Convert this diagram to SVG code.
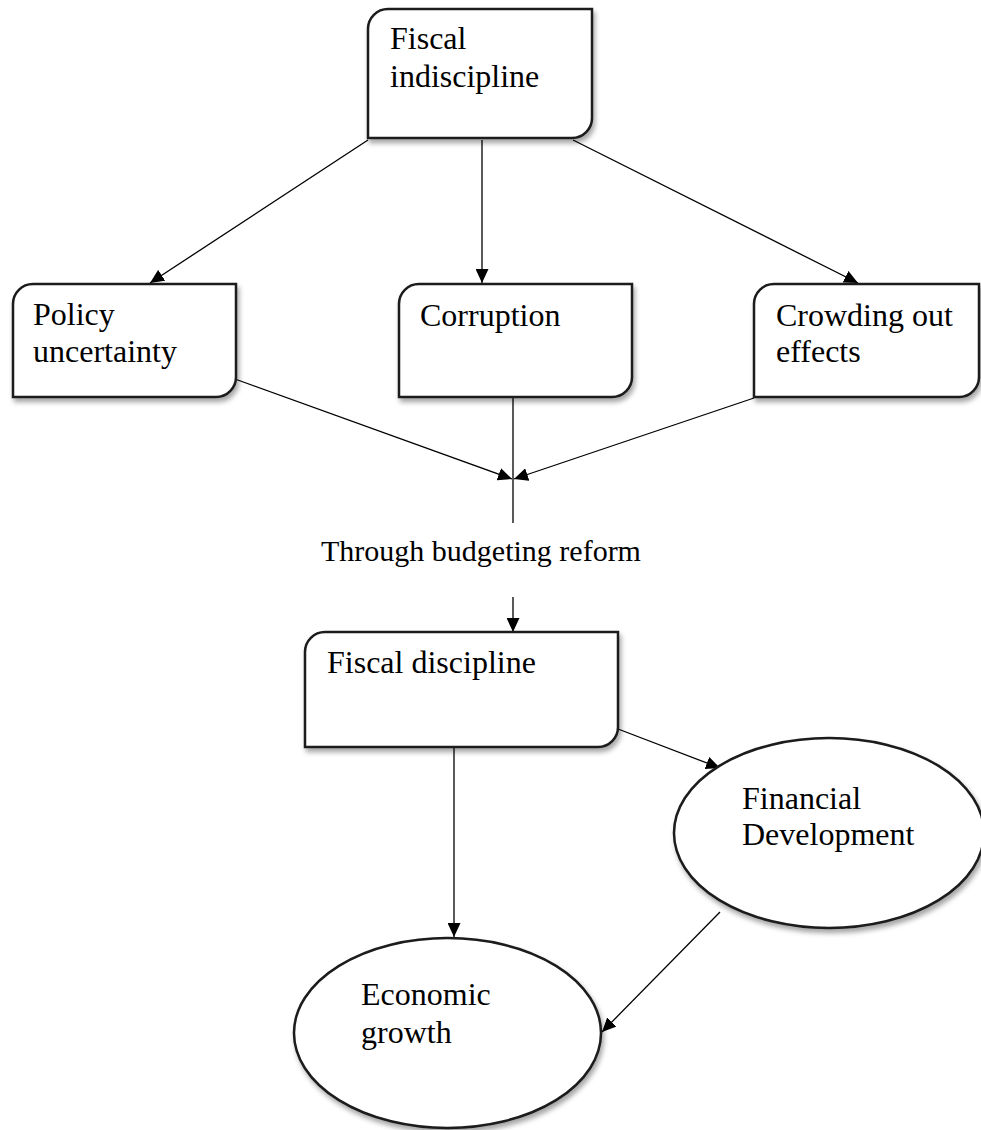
<svg xmlns="http://www.w3.org/2000/svg" width="981" height="1130" viewBox="0 0 981 1130">
  <defs>
    <marker id="arrow" viewBox="0 0 14 13" refX="14" refY="6.5" markerWidth="14" markerHeight="13" markerUnits="userSpaceOnUse" orient="auto">
      <path d="M0,0 L14,6.5 L0,13 Z" fill="#000"/>
    </marker>
    <filter id="shadow" x="-10%" y="-10%" width="125%" height="130%">
      <feDropShadow dx="2" dy="4" stdDeviation="2.5" flood-color="#000" flood-opacity="0.35"/>
    </filter>
  </defs>
  <style>
    .box { fill: #fff; stroke: #1a1a1a; stroke-width: 2.5; filter: url(#shadow); }
    .lbl { font-family: "Liberation Serif", "Times New Roman", serif; font-size: 32px; fill: #000; }
    .edge { stroke: #000; stroke-width: 1.3; fill: none; marker-end: url(#arrow); }
    .plain { stroke: #000; stroke-width: 1.3; fill: none; }
  </style>
  <rect width="981" height="1130" fill="#fff"/>

  <g id="connectors">
    <line class="edge" x1="368" y1="140" x2="150" y2="283"/>
    <line class="edge" x1="482" y1="140" x2="482" y2="283"/>
    <line class="edge" x1="573" y1="140" x2="858" y2="283"/>
    <line class="edge" x1="235" y1="379" x2="512" y2="479"/>
    <line class="edge" x1="754" y1="398" x2="514" y2="479"/>
    <line class="plain" x1="513" y1="398" x2="513" y2="523"/>
    <line class="edge" x1="513" y1="597" x2="513" y2="632"/>
    <line class="edge" x1="454" y1="748" x2="454" y2="937"/>
    <line class="edge" x1="618" y1="729" x2="720" y2="768"/>
    <line class="edge" x1="720" y1="912" x2="602" y2="1032"/>
  </g>

  <g id="fiscal-indiscipline">
    <path class="box" d="M388,9 H592 V118 A20,20 0 0 1 572,138 H368 V29 A20,20 0 0 1 388,9 Z"/>
    <text class="lbl" x="390" y="49">Fiscal</text>
    <text class="lbl" x="390" y="87">indiscipline</text>
  </g>

  <g id="policy-uncertainty">
    <path class="box" d="M33,284 H236 V377 A20,20 0 0 1 216,397 H13 V304 A20,20 0 0 1 33,284 Z"/>
    <text class="lbl" x="33" y="325">Policy</text>
    <text class="lbl" x="33" y="362">uncertainty</text>
  </g>

  <g id="corruption">
    <path class="box" d="M419,284 H632 V377 A20,20 0 0 1 612,397 H399 V304 A20,20 0 0 1 419,284 Z"/>
    <text class="lbl" x="420" y="326">Corruption</text>
  </g>

  <g id="crowding-out">
    <path class="box" d="M774,284 H979 V377 A20,20 0 0 1 959,397 H754 V304 A20,20 0 0 1 774,284 Z"/>
    <text class="lbl" x="776" y="326">Crowding out</text>
    <text class="lbl" x="776" y="362">effects</text>
  </g>

  <g id="budget-reform-label">
    <text class="lbl" x="481" y="561" text-anchor="middle" style="font-size:30px">Through budgeting reform</text>
  </g>

  <g id="fiscal-discipline">
    <path class="box" d="M325,632 H618 V727 A20,20 0 0 1 598,747 H305 V652 A20,20 0 0 1 325,632 Z"/>
    <text class="lbl" x="327" y="673">Fiscal discipline</text>
  </g>

  <g id="financial-development">
    <ellipse class="box" cx="829" cy="833" rx="155" ry="95"/>
    <text class="lbl" x="742" y="809">Financial</text>
    <text class="lbl" x="742" y="845">Development</text>
  </g>

  <g id="economic-growth">
    <ellipse class="box" cx="447.5" cy="1033" rx="153.5" ry="95"/>
    <text class="lbl" x="361" y="1005">Economic</text>
    <text class="lbl" x="361" y="1043">growth</text>
  </g>
</svg>
